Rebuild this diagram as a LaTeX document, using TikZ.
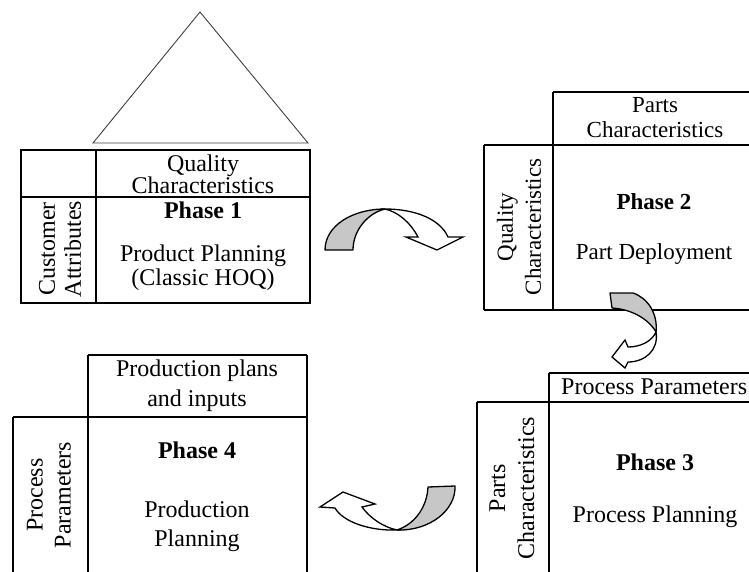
\documentclass[tikz,border=0pt]{standalone}
\usepackage{fontspec}
\setmainfont{Liberation Serif}
\begin{document}
\begin{tikzpicture}[x=1pt,y=-1pt,
  grid/.style={line width=1.1pt,black},
  tri/.style={line width=0.9pt,black!75},
  backface/.style={fill=black!22,draw=black,line width=1.3pt,line join=round},
  frontface/.style={fill=white,draw=black,line width=1.3pt,line join=miter},
  txt/.style={inner sep=0pt,align=center,font=\fontsize{24}{23}\selectfont},
  txtb/.style={inner sep=0pt,align=center,font=\fontsize{24}{23}\selectfont\bfseries},
  txtc/.style={inner sep=0pt,align=center,font=\fontsize{24}{29}\selectfont},
  txtcb/.style={inner sep=0pt,align=center,font=\fontsize{24}{29}\selectfont\bfseries},
  txtd/.style={inner sep=0pt,align=center,font=\fontsize{23}{25}\selectfont},
  txtdb/.style={inner sep=0pt,align=center,font=\fontsize{23}{25}\selectfont\bfseries}]
\clip (0,0) rectangle (749,571);
\fill[white] (0,0) rectangle (749,571);

% roof triangle
\draw[tri] (93,143) -- (200,12) -- (308,143) -- cycle;

% Phase 1 grid
\draw[grid] (21,150) rectangle (310,303);
\draw[grid] (96,150) -- (96,303);
\draw[grid] (21,197) -- (310,197);

% Phase 2 grid
\draw[grid] (553,92) -- (760,92);
\draw[grid] (484,145) -- (760,145);
\draw[grid] (484,310) -- (760,310);
\draw[grid] (484,145) -- (484,310);
\draw[grid] (553,92) -- (553,310);

% Phase 3 grid
\draw[grid] (549,373) -- (760,373);
\draw[grid] (477,402) -- (760,402);
\draw[grid] (477,402) -- (477,580);
\draw[grid] (549,373) -- (549,580);

% Phase 4 grid
\draw[grid] (88,355) -- (307,355);
\draw[grid] (13,417) -- (307,417);
\draw[grid] (13,417) -- (13,580);
\draw[grid] (88,355) -- (88,580);
\draw[grid] (307,355) -- (307,580);

% Phase 1 texts
\node[txt,font=\fontsize{24}{22}\selectfont] (p1top) at (203,174) {Quality\\Characteristics};
\node[txtb] (p1title) at (203,210) {Phase 1};
\node[txt,font=\fontsize{24}{24}\selectfont] (p1name) at (203,268) {Product Planning\\(Classic HOQ)};
\node[txt,rotate=90,font=\fontsize{24}{26}\selectfont] (p1side) at (60,249) {Customer\\Attributes};

% Phase 2 texts
\node[txtd] (p2top) at (655,118) {Parts\\Characteristics};
\node[txtdb] (p2title) at (654,202) {Phase 2};
\node[txtd] (p2name) at (654,254) {Part Deployment};
\node[txtd,rotate=90,font=\fontsize{23}{28}\selectfont] (p2side) at (519,227) {Quality\\Characteristics};

% Phase 3 texts
\node[txtc,anchor=west] (p3top) at (561,387) {Process Parameters};
\node[txtcb] (p3title) at (655,462) {Phase 3};
\node[txtc] (p3name) at (655,517) {Process Planning};
\node[txtc,rotate=90] (p3side) at (512,488) {Parts\\Characteristics};

% Phase 4 texts
\node[txtc,font=\fontsize{24}{30}\selectfont] (p4top) at (197,386) {Production plans\\and inputs};
\node[txtcb] (p4title) at (197,450) {Phase 4};
\node[txtc] (p4name) at (197,526) {Production\\Planning};
\node[txtc,rotate=90,font=\fontsize{24}{28}\selectfont] (p4side) at (49,495) {Process\\Parameters};

% Curved arrow 1 (Phase 1 -> Phase 2)
\draw[backface] (325,250) .. controls (325,226) and (352,209) .. (385,209)
   .. controls (368,213) and (353,230) .. (353,250) -- cycle;
\draw[frontface] (385,209) .. controls (415,209) and (440,219) .. (448,237)
   -- (463,237) -- (437,250) -- (406,237) -- (418,237)
   .. controls (410,222) and (398,212) .. (385,209) -- cycle;

% Curved arrow 2 (Phase 2 -> Phase 3)
\draw[backface] (610,293) -- (633,293) .. controls (648,298) and (658,314) .. (656,332)
   .. controls (648,318) and (630,309) .. (612,308) -- cycle;
\draw[frontface] (656,332) .. controls (659,350) and (645,362) .. (628,362)
   -- (625,368) -- (612,357) -- (625,340) -- (628,347)
   .. controls (641,347) and (652,341) .. (656,332) -- cycle;

% Curved arrow 3 (Phase 3 -> Phase 4)
\draw[backface] (428,487) -- (455,486) .. controls (456,510) and (430,531) .. (397,530)
   .. controls (415,524) and (427,507) .. (428,487) -- cycle;
\draw[frontface] (397,530) .. controls (370,531) and (343,522) .. (335,508)
   -- (320,507) -- (343,492) -- (375,504) -- (362,507)
   .. controls (370,518) and (383,527) .. (397,530) -- cycle;
\end{tikzpicture}
\end{document}
